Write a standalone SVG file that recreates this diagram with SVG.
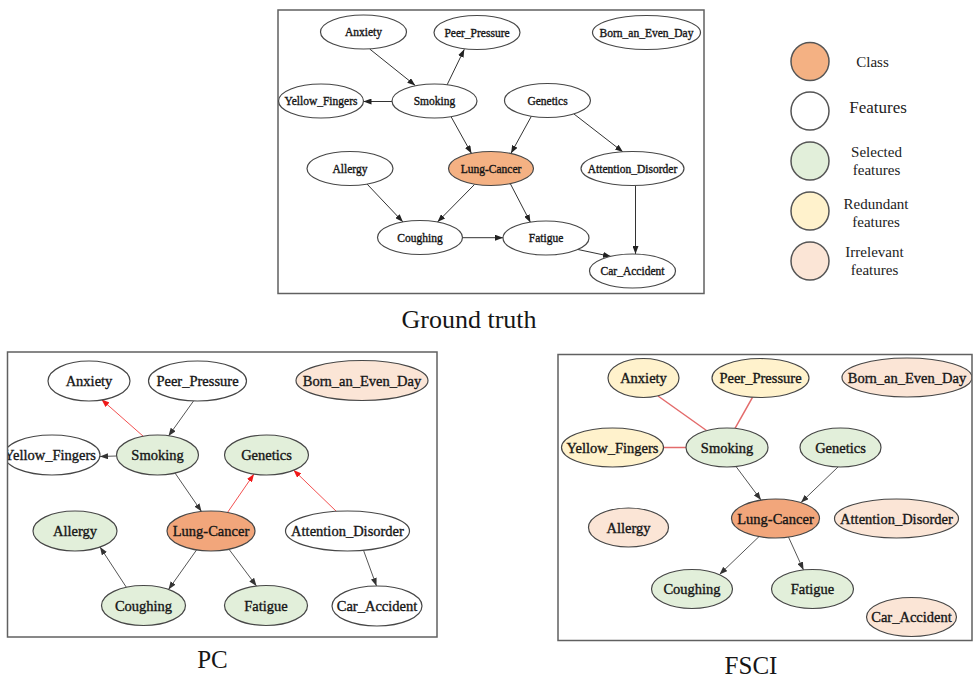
<svg xmlns="http://www.w3.org/2000/svg" width="974" height="680" viewBox="0 0 974 680">
<style>
text{font-family:"Liberation Serif","Times New Roman",serif;fill:#161616}
.gt text{font-size:11.5px}
.big text{font-size:14.5px}
.n text{text-anchor:middle;dominant-baseline:central;stroke:#161616;stroke-width:0.35}
ellipse{stroke:#474747;stroke-width:1.2}
.f{fill:#ffffff}
.c{fill:#F4B183}
.c2{fill:#F2A67B}
.s{fill:#E2EFDA}
.r{fill:#FFF2CC}
.i{fill:#FBE5D6}
.box{fill:none;stroke:#606060;stroke-width:1.5}
.e{stroke:#333;stroke-width:1;fill:none}
.eg{stroke:#555;stroke-width:1;fill:none}
.er{stroke:#F03C3C;stroke-width:0.9;fill:none}
.eu{stroke:#E36B6B;stroke-width:1.5;fill:none}
.title{font-size:25px;text-anchor:middle}
.leg{font-size:15px;text-anchor:middle;fill:#222}
.lc{stroke:#555;stroke-width:1.5}
</style>
<defs>
<marker id="ab" markerUnits="userSpaceOnUse" markerWidth="8" markerHeight="6" refX="8" refY="3" orient="auto"><path d="M0,0 L8,3 L0,6 z" fill="#222"/></marker>
<marker id="ag" markerUnits="userSpaceOnUse" markerWidth="8" markerHeight="6" refX="8" refY="3" orient="auto"><path d="M0,0 L8,3 L0,6 z" fill="#333"/></marker>
<marker id="ar" markerUnits="userSpaceOnUse" markerWidth="8" markerHeight="6" refX="8" refY="3" orient="auto"><path d="M0,0 L8,3 L0,6 z" fill="#F01818"/></marker>
<clipPath id="clipPC"><rect x="7.5" y="352" width="429.5" height="285"/></clipPath>
<clipPath id="clipFS"><rect x="558" y="354.5" width="414" height="286"/></clipPath>
</defs>

<!-- Ground truth -->
<g id="groundtruth" class="gt">
<rect class="box" x="278" y="10" width="426" height="283.5"/>
<g id="gt-edges">
<line class="e" x1="369.7" y1="49" x2="415.3" y2="85.5" marker-end="url(#ab)"/>
<line class="e" x1="447" y1="85" x2="464.3" y2="49.3" marker-end="url(#ab)"/>
<line class="e" x1="392" y1="101.5" x2="363.5" y2="101.5" marker-end="url(#ab)"/>
<line class="e" x1="451" y1="116.6" x2="471.5" y2="153.5" marker-end="url(#ab)"/>
<line class="e" x1="531.5" y1="116" x2="511" y2="153.3" marker-end="url(#ab)"/>
<line class="e" x1="574" y1="114" x2="623" y2="152" marker-end="url(#ab)"/>
<line class="e" x1="367" y1="184" x2="403" y2="222" marker-end="url(#ab)"/>
<line class="e" x1="474.5" y1="184.5" x2="437.5" y2="222" marker-end="url(#ab)"/>
<line class="e" x1="510.5" y1="184" x2="530.5" y2="222.5" marker-end="url(#ab)"/>
<line class="e" x1="462.5" y1="237.7" x2="503" y2="237.7" marker-end="url(#ab)"/>
<line class="e" x1="578" y1="249.5" x2="611" y2="256.5" marker-end="url(#ab)"/>
<line class="e" x1="635.5" y1="186" x2="635.5" y2="254" marker-end="url(#ab)"/>
</g>
<g id="gt-anxiety" class="n"><ellipse class="f" cx="363.5" cy="32" rx="43" ry="17"/><text x="363.5" y="32">Anxiety</text></g>
<g id="gt-peer" class="n"><ellipse class="f" cx="477" cy="32.5" rx="43" ry="17"/><text x="477" y="32.5">Peer_Pressure</text></g>
<g id="gt-born" class="n"><ellipse class="f" cx="646.5" cy="32.5" rx="54" ry="17"/><text x="646.5" y="32.5">Born_an_Even_Day</text></g>
<g id="gt-yellow" class="n"><ellipse class="f" cx="321" cy="101" rx="42.5" ry="17"/><text x="321" y="101">Yellow_Fingers</text></g>
<g id="gt-smoking" class="n"><ellipse class="f" cx="434.5" cy="101" rx="42.5" ry="17"/><text x="434.5" y="101">Smoking</text></g>
<g id="gt-genetics" class="n"><ellipse class="f" cx="547.5" cy="100.5" rx="43" ry="17"/><text x="547.5" y="100.5">Genetics</text></g>
<g id="gt-allergy" class="n"><ellipse class="f" cx="350" cy="168.5" rx="43" ry="17"/><text x="350" y="168.5">Allergy</text></g>
<g id="gt-lung" class="n"><ellipse class="c" cx="491" cy="168.5" rx="42.5" ry="17"/><text x="491" y="168.5">Lung-Cancer</text></g>
<g id="gt-attention" class="n"><ellipse class="f" cx="632.5" cy="168.5" rx="51.5" ry="17"/><text x="632.5" y="168.5">Attention_Disorder</text></g>
<g id="gt-coughing" class="n"><ellipse class="f" cx="420" cy="237.5" rx="42.5" ry="17"/><text x="420" y="237.5">Coughing</text></g>
<g id="gt-fatigue" class="n"><ellipse class="f" cx="546" cy="238" rx="43" ry="17"/><text x="546" y="238">Fatigue</text></g>
<g id="gt-car" class="n"><ellipse class="f" cx="632.5" cy="271" rx="43" ry="17"/><text x="632.5" y="271">Car_Accident</text></g>
</g>
<text class="title" x="469" y="328" style="font-size:26px">Ground truth</text>

<!-- Legend -->
<g id="legend">
<g id="leg-class"><circle class="c lc" cx="810" cy="61.5" r="19"/><text class="leg" x="872.5" y="67">Class</text></g>
<g id="leg-features"><circle class="f lc" cx="810" cy="111" r="19"/><text class="leg" x="878" y="113" style="font-size:17px">Features</text></g>
<g id="leg-selected"><circle class="s lc" cx="810" cy="161" r="19"/><text class="leg" x="876.5" y="157">Selected</text><text class="leg" x="876.5" y="175">features</text></g>
<g id="leg-redundant"><circle class="r lc" cx="810" cy="211" r="19"/><text class="leg" x="876" y="208.5">Redundant</text><text class="leg" x="876" y="226.5">features</text></g>
<g id="leg-irrelevant"><circle class="i lc" cx="810" cy="261" r="19"/><text class="leg" x="874.5" y="256.5">Irrelevant</text><text class="leg" x="874.5" y="275">features</text></g>
</g>

<!-- PC -->
<g id="pc" class="big">
<g clip-path="url(#clipPC)">
<g id="pc-edges">
<line class="er" x1="143.5" y1="436.5" x2="101.5" y2="399.5" marker-end="url(#ar)"/>
<line class="eg" x1="193.5" y1="401" x2="168.5" y2="436" marker-end="url(#ag)"/>
<line class="eg" x1="116.5" y1="456" x2="100" y2="456.5" marker-end="url(#ag)"/>
<line class="eg" x1="175" y1="473" x2="201.5" y2="511.5" marker-end="url(#ag)"/>
<line class="er" x1="227.5" y1="512.5" x2="254" y2="474" marker-end="url(#ar)"/>
<line class="er" x1="336.5" y1="511.5" x2="293.5" y2="470" marker-end="url(#ar)"/>
<line class="eg" x1="126.5" y1="587.5" x2="100" y2="547" marker-end="url(#ag)"/>
<line class="eg" x1="196.5" y1="550" x2="168.5" y2="589.5" marker-end="url(#ag)"/>
<line class="eg" x1="229" y1="549.3" x2="256.5" y2="586" marker-end="url(#ag)"/>
<line class="eg" x1="363.5" y1="550.3" x2="376.5" y2="586" marker-end="url(#ag)"/>
</g>
<g id="pc-anxiety" class="n"><ellipse class="f" cx="89" cy="381" rx="41" ry="20"/><text x="89" y="381">Anxiety</text></g>
<g id="pc-peer" class="n"><ellipse class="f" cx="197.5" cy="381" rx="49" ry="20"/><text x="197.5" y="381">Peer_Pressure</text></g>
<g id="pc-born" class="n"><ellipse class="i" cx="362" cy="380.5" rx="66" ry="20"/><text x="362" y="380.5">Born_an_Even_Day</text></g>
<g id="pc-yellow" class="n"><ellipse class="f" cx="52" cy="455" rx="48" ry="20"/><text x="50" y="455">Yellow_Fingers</text></g>
<g id="pc-smoking" class="n"><ellipse class="s" cx="157.5" cy="455" rx="41" ry="20"/><text x="157.5" y="455">Smoking</text></g>
<g id="pc-genetics" class="n"><ellipse class="s" cx="266.5" cy="455" rx="42" ry="20"/><text x="266.5" y="455">Genetics</text></g>
<g id="pc-allergy" class="n"><ellipse class="s" cx="75" cy="531" rx="42" ry="20"/><text x="75" y="531">Allergy</text></g>
<g id="pc-lung" class="n"><ellipse class="c2" cx="211" cy="531" rx="44" ry="20"/><text x="211" y="531">Lung-Cancer</text></g>
<g id="pc-attention" class="n"><ellipse class="f" cx="347.5" cy="531" rx="62" ry="20"/><text x="347.5" y="531">Attention_Disorder</text></g>
<g id="pc-coughing" class="n"><ellipse class="s" cx="143.5" cy="605.5" rx="42" ry="20"/><text x="143.5" y="605.5">Coughing</text></g>
<g id="pc-fatigue" class="n"><ellipse class="s" cx="266" cy="605.5" rx="41.5" ry="20"/><text x="266" y="605.5">Fatigue</text></g>
<g id="pc-car" class="n"><ellipse class="f" cx="377" cy="606" rx="45" ry="20"/><text x="377" y="606">Car_Accident</text></g>
</g>
<rect class="box" x="7.5" y="352" width="429.5" height="285"/>
</g>
<text class="title" x="212.5" y="668">PC</text>

<!-- FSCI -->
<g id="fsci" class="big">
<g clip-path="url(#clipFS)">
<g id="fsci-edges">
<line class="eu" x1="658" y1="396" x2="706.5" y2="430.5"/>
<line class="eu" x1="752.5" y1="397.3" x2="735" y2="428.3"/>
<line class="eu" x1="663.5" y1="447.5" x2="686" y2="447.5"/>
<line class="eg" x1="736" y1="466.5" x2="761" y2="500" marker-end="url(#ag)"/>
<line class="eg" x1="838" y1="467" x2="801" y2="502.5" marker-end="url(#ag)"/>
<line class="eg" x1="759" y1="536.6" x2="719.5" y2="574.5" marker-end="url(#ag)"/>
<line class="eg" x1="788.5" y1="537.1" x2="803.5" y2="570" marker-end="url(#ag)"/>
</g>
<g id="fs-anxiety" class="n"><ellipse class="r" cx="643.5" cy="378" rx="35.5" ry="19.5"/><text x="643.5" y="378">Anxiety</text></g>
<g id="fs-peer" class="n"><ellipse class="r" cx="760.5" cy="378" rx="48.5" ry="19.5"/><text x="760.5" y="378">Peer_Pressure</text></g>
<g id="fs-born" class="n"><ellipse class="i" cx="907" cy="377.5" rx="65" ry="19.5"/><text x="907" y="377.5">Born_an_Even_Day</text></g>
<g id="fs-yellow" class="n"><ellipse class="r" cx="612.5" cy="447.5" rx="51" ry="19.5"/><text x="612.5" y="447.5">Yellow_Fingers</text></g>
<g id="fs-smoking" class="n"><ellipse class="s" cx="727" cy="447.5" rx="41" ry="19.5"/><text x="727" y="447.5">Smoking</text></g>
<g id="fs-genetics" class="n"><ellipse class="s" cx="840.5" cy="447.5" rx="40.5" ry="19.5"/><text x="840.5" y="447.5">Genetics</text></g>
<g id="fs-allergy" class="n"><ellipse class="i" cx="628.5" cy="527.5" rx="40" ry="19.5"/><text x="628.5" y="527.5">Allergy</text></g>
<g id="fs-lung" class="n"><ellipse class="c2" cx="775.5" cy="518.5" rx="44" ry="19.5"/><text x="775.5" y="518.5">Lung-Cancer</text></g>
<g id="fs-attention" class="n"><ellipse class="i" cx="896.5" cy="518.5" rx="62" ry="19.5"/><text x="896.5" y="518.5">Attention_Disorder</text></g>
<g id="fs-coughing" class="n"><ellipse class="s" cx="692" cy="589" rx="40.5" ry="19.5"/><text x="692" y="589">Coughing</text></g>
<g id="fs-fatigue" class="n"><ellipse class="s" cx="812.5" cy="589" rx="41" ry="19.5"/><text x="812.5" y="589">Fatigue</text></g>
<g id="fs-car" class="n"><ellipse class="i" cx="911.5" cy="617" rx="45" ry="19.5"/><text x="911.5" y="617">Car_Accident</text></g>
</g>
<rect class="box" x="558" y="354.5" width="414" height="286"/>
</g>
<text class="title" x="751" y="674">FSCI</text>
</svg>
